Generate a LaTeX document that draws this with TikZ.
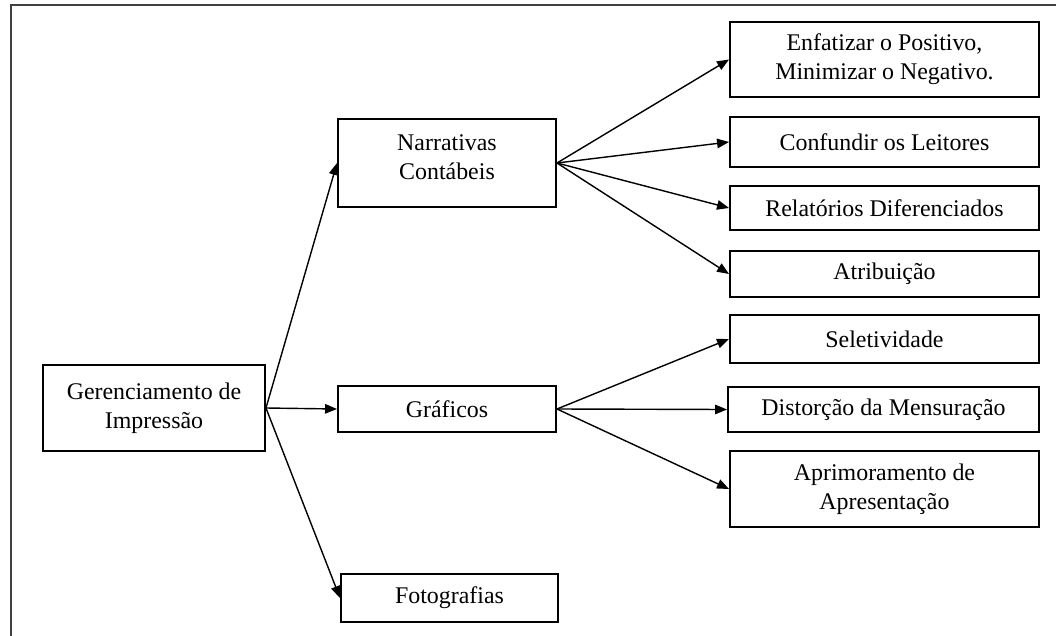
\documentclass[tikz,border=0pt]{standalone}
\usepackage{fontspec}
\setmainfont{Liberation Serif}
\usetikzlibrary{arrows.meta}

\begin{document}
\begin{tikzpicture}[x=0.02cm, y=-0.02cm,
		caixa/.style 2 args={draw, line width=1.1pt, align=center, inner sep=1pt,
			minimum width=#1*0.02cm, minimum height=#2*0.02cm,
			font=\fontsize{13.6}{16.4}\selectfont},
		seta/.style={line width=0.8pt, -{Triangle[length=0.24cm, width=0.19cm]}}]
		\useasboundingbox (0,0) rectangle (1056,636);
		\draw[line width=1.6pt, black!75] (11,636) -- (11,5) -- (1056,5);
		\node[caixa={222}{86}] (ger) at (154,408){Gerenciamento de\\Impressão};
		\node[caixa={218}{88}] (nar) at (447,163){Narrativas\\Contábeis\\[-10pt]\mbox{}};
		\node[caixa={218}{46}] (gra) at (447,409){Gráficos};
		\node[caixa={217}{48}] (fot) at (449.5,598){Fotografias};
		\node[caixa={309}{75}] (enf) at (884.5,59.5){Enfatizar o Positivo,\\Minimizar o Negativo.};
		\node[caixa={309}{50}] (con) at (884.5,142){Confundir os Leitores};
		\node[caixa={309}{44}] (rel) at (884.5,208){Relatórios Diferenciados};
		\node[caixa={309}{46}] (atr) at (884.5,274){Atribuição};
		\node[caixa={309}{48}] (sel) at (884.5,339){Seletividade};
		\node[caixa={311}{45}] (dis) at (883.5,409.5){Distorção da Mensuração};
		\node[caixa={309}{76}] (apr) at (884.5,489){Aprimoramento de\\Apresentação};
		\draw[seta] (ger.east) -- (nar.west);
		\draw[seta] (ger.east) -- (gra.west);
		\draw[seta] (ger.east) -- (fot.west);
		\draw[seta] (nar.east) -- (enf.west);
		\draw[seta] (nar.east) -- (con.west);
		\draw[seta] (nar.east) -- (rel.west);
		\draw[seta] (nar.east) -- (atr.west);
		\draw[seta] (gra.east) -- (sel.west);
		\draw[seta] (gra.east) -- (dis.west);
		\draw[seta] (gra.east) -- (apr.west);
		\end{tikzpicture}
\end{document}
